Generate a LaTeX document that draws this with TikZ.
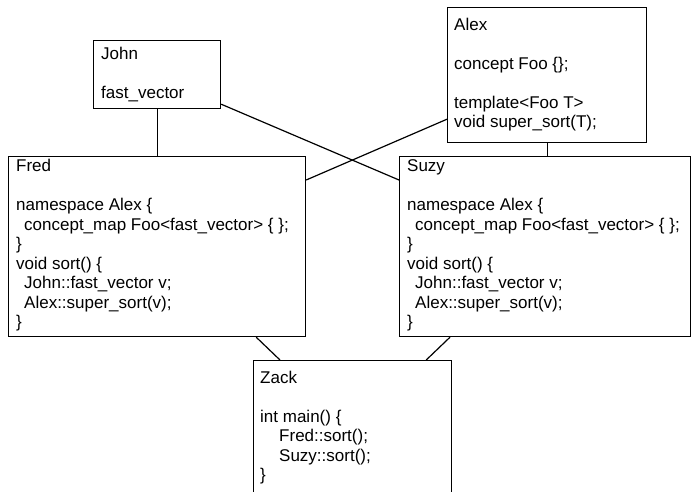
\documentclass[tikz,border=0pt]{standalone}
\usepackage{fontspec}
\setmainfont{Liberation Sans}
\tikzset{
  box/.style={draw, line width=1.2pt, inner sep=0pt, anchor=north west},
  code/.style={anchor=base west, inner sep=0pt, font=\fontsize{17}{19.5}\selectfont},
  link/.style={line width=1.2pt},
}
\newcommand{\codelines}[1]{\begin{tabular}[t]{@{}l@{}}#1\end{tabular}}
\begin{document}
\begin{tikzpicture}[x=1pt,y=-1pt]
\useasboundingbox (0,0) rectangle (691,492);
\clip (0,0) rectangle (691,492);
% boxes
\node[box, minimum width=127pt, minimum height=68pt] (john) at (93,40) {};
\node[box, minimum width=199pt, minimum height=135pt] (alex) at (447,7) {};
\node[box, minimum width=297pt, minimum height=180pt] (fred) at (8,156) {};
\node[box, minimum width=291pt, minimum height=180pt] (suzy) at (399,156) {};
\node[box, minimum width=198pt, minimum height=150pt] (zack) at (253,360) {};
% texts
\node[code] (johnt) at (101,59.3) {\codelines{John\\ \\ fast\_vector}};
\node[code] (alext) at (454,30.3) {\codelines{Alex\\ \\ concept Foo \{\};\\ \\ template<Foo T>\\ void super\_sort(T);}};
\node[code] (fredt) at (16,171.7) {\codelines{Fred\\ \\ namespace Alex \{\\ \hspace*{8pt}concept\_map Foo<fast\_vector> \{ \};\\ \}\\ void sort() \{\\ \hspace*{8pt}John::fast\_vector v;\\ \hspace*{8pt}Alex::super\_sort(v);\\ \}}};
\node[code] (suzyt) at (407,171.7) {\codelines{Suzy\\ \\ namespace Alex \{\\ \hspace*{8pt}concept\_map Foo<fast\_vector> \{ \};\\ \}\\ void sort() \{\\ \hspace*{8pt}John::fast\_vector v;\\ \hspace*{8pt}Alex::super\_sort(v);\\ \}}};
\node[code] (zackt) at (260,383.3) {\codelines{Zack\\ \\ int main() \{\\ \hspace*{19pt}Fred::sort();\\ \hspace*{19pt}Suzy::sort();\\ \}}};
% connectors
\draw[link] (john.south) -- (john.south |- fred.north);
\draw[link] (alex.south) -- (alex.south |- suzy.north);
\draw[link] ([yshift=5pt]john.south east) -- ([yshift=-24pt]suzy.north west);
\draw[link] ([yshift=24pt]alex.south west) -- ([yshift=-24pt]fred.north east);
\draw[link] ([xshift=-50pt]fred.south east) -- ([xshift=27pt]zack.north west);
\draw[link] ([xshift=51pt]suzy.south west) -- ([xshift=-26pt]zack.north east);
\end{tikzpicture}
\end{document}
